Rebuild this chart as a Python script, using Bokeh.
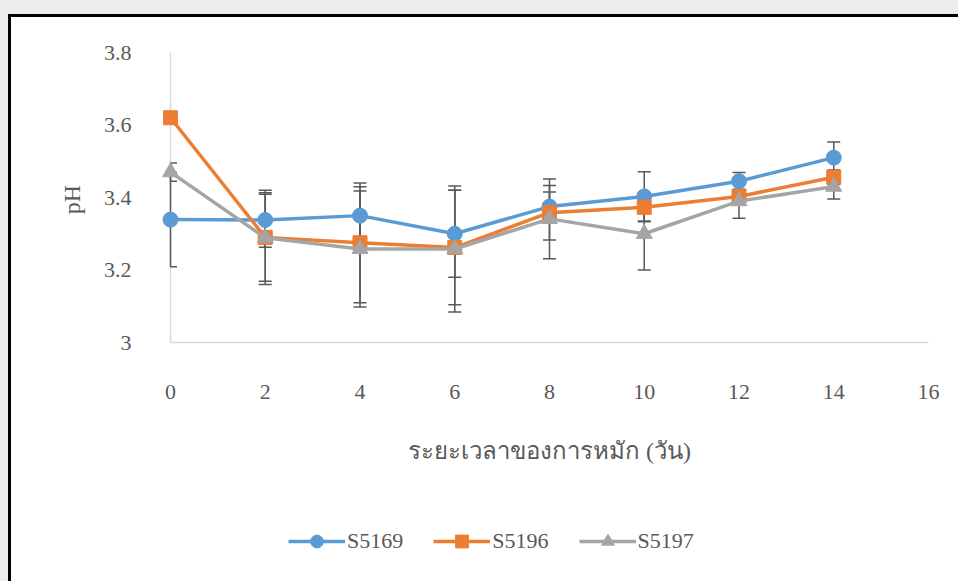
from bokeh.plotting import figure
from bokeh.layouts import column
from bokeh.models import (Range1d, FixedTicker, Legend, LegendItem,
                          CustomJSTickFormatter, InlineStyleSheet)
from bokeh.embed import file_html
from bokeh.resources import INLINE

# ---- data ----
days = [0, 2, 4, 6, 8, 10, 12, 14]
s5169 = [3.339, 3.338, 3.350, 3.300, 3.375, 3.403, 3.445, 3.510]
s5169_err = [0.13, 0.075, 0.08, 0.12, 0.04, 0.068, 0.024, 0.043]
s5196 = [3.620, 3.290, 3.275, 3.262, 3.358, 3.373, 3.403, 3.456]
s5196_err = [0.0, 0.13, 0.165, 0.158, 0.075, 0.04, 0.02, 0.02]
s5197 = [3.470, 3.289, 3.258, 3.258, 3.341, 3.300, 3.390, 3.430]
s5197_err = [0.025, 0.12, 0.16, 0.174, 0.11, 0.10, 0.047, 0.034]
series_names = ["S5169", "S5196", "S5197"]
x_ticks = [0, 2, 4, 6, 8, 10, 12, 14, 16]
y_ticks = [3.0, 3.2, 3.4, 3.6, 3.8]
x_min, x_max = 0, 16
y_min, y_max = 3.0, 3.8
x_title = "ระยะเวลาของการหมัก (วัน)"
y_title = "pH"

colors = ["#5B9BD5", "#ED7D31", "#A5A5A5"]
markers = ["circle", "square", "triangle"]
marker_sizes = [15, 14, 16]
FONT = "Liberation Serif"
TXT = "#595959"
AXIS_C = "#D9D9D9"

# layout in pixels
W, H = 958, 581
H1 = 490                      # main chart part
H2 = H - H1                   # legend strip
pad = 21                      # extra room round the plot area so markers are not cut
left_px, right_px, top_px, bottom_px = 170 - pad, 928 + pad, 52, 346
px_per_x = (928 - 170) / (x_max - x_min)
px_per_y = (342 - 52) / (y_max - y_min)
x_start = x_min - pad / px_per_x
x_end = x_max + pad / px_per_x
y_start = y_min - (bottom_px - 342) / px_per_y

p = figure(width=W, height=H1, output_backend="svg", toolbar_location=None,
           x_range=Range1d(x_start, x_end), y_range=Range1d(y_start, y_max),
           min_border_left=left_px, min_border_right=W - right_px,
           min_border_top=top_px, min_border_bottom=H1 - bottom_px,
           background_fill_color="white", border_fill_color="white")
p.outline_line_color = None
p.xgrid.visible = False
p.ygrid.visible = False

for ax in (p.xaxis[0], p.yaxis[0]):
    ax.axis_line_color = None
    ax.major_tick_line_color = None
    ax.minor_tick_line_color = None
    ax.major_label_text_font = FONT
    ax.major_label_text_font_size = "22px"
    ax.major_label_text_color = TXT
    ax.axis_label_text_font = FONT
    ax.axis_label_text_font_style = "normal"
    ax.axis_label_text_color = TXT

p.xaxis.ticker = FixedTicker(ticks=x_ticks)
p.yaxis.ticker = FixedTicker(ticks=y_ticks)
p.yaxis.formatter = CustomJSTickFormatter(code="return (Math.round(tick*10)/10).toString();")
p.xaxis.major_label_standoff = 32
p.yaxis.major_label_standoff = 12
p.xaxis.axis_label = x_title
p.yaxis.axis_label = y_title
p.xaxis.axis_label_text_font_size = "24px"
p.yaxis.axis_label_text_font_size = "24px"
p.xaxis.axis_label_standoff = 36
p.yaxis.axis_label_standoff = 16

# axis lines at x=0 and y=3.0
p.segment(x0=[x_min], y0=[y_min], x1=[x_min], y1=[y_max], line_color=AXIS_C, line_width=1.5)
p.segment(x0=[x_min], y0=[y_min], x1=[x_max], y1=[y_min], line_color=AXIS_C, line_width=1.5)

# ---- error bars ----
cap_half = 6.5 / px_per_x
all_vals = [s5169, s5196, s5197]
all_errs = [s5169_err, s5196_err, s5197_err]
for vals, errs in zip(all_vals, all_errs):
    xs = [d for d, e in zip(days, errs) if e > 0]
    lo = [v - e for v, e in zip(vals, errs) if e > 0]
    hi = [v + e for v, e in zip(vals, errs) if e > 0]
    p.segment(x0=xs, y0=lo, x1=xs, y1=hi, line_color=TXT, line_width=1.5)
    cx0 = [max(x - cap_half, x_min) for x in xs] * 2
    cx1 = [x + cap_half for x in xs] * 2
    p.segment(x0=cx0, y0=lo + hi, x1=cx1, y1=lo + hi, line_color=TXT, line_width=1.5)

# ---- series ----
for vals, c, m, s in zip(all_vals, colors, markers, marker_sizes):
    p.line(days, vals, line_color=c, line_width=3.5)
    p.scatter(days, vals, marker=m, size=s, fill_color=c, line_color=c)

# ---- legend strip (own small figure; its series copies lie outside its view) ----
q = figure(width=W, height=H2, output_backend="svg", toolbar_location=None,
           x_range=Range1d(100, 101), y_range=Range1d(100, 101),
           x_axis_type=None, y_axis_type=None,
           min_border=0, min_border_left=0, min_border_right=0,
           min_border_top=0, min_border_bottom=0,
           background_fill_color="white", border_fill_color="white")
q.outline_line_color = None
q.xgrid.visible = False
q.ygrid.visible = False
items = []
for name, vals, c, m, s in zip(series_names, all_vals, colors, markers, marker_sizes):
    lr = q.line(days, vals, line_color=c, line_width=3.5)
    sr = q.scatter(days, vals, marker=m, size=s - 1, fill_color=c, line_color=c)
    items.append(LegendItem(label=name, renderers=[lr, sr]))

legend = Legend(items=items, orientation="horizontal", location=(288 - left_px, 24),
                padding=0, margin=0, spacing=30, glyph_width=57, glyph_height=32,
                label_standoff=2, label_text_font=FONT, label_text_font_size="22px",
                label_text_color=TXT, border_line_color=None, background_fill_alpha=0)
q.add_layout(legend)

layout = column(p, q, spacing=0)

# ---- page frame around the chart (thick black edge, grey page outside) ----
layout.stylesheets = [InlineStyleSheet(css="""
:host::after {
  content: "";
  position: absolute;
  left: 8px; top: 14px; width: 2000px; height: 2000px;
  border-left: 3px solid #000; border-top: 3px solid #000;
  box-shadow: 0 0 0 40px #ECEDEA;
  pointer-events: none;
  z-index: 100;
}
""")]

open("out.html", "w").write(file_html(layout, INLINE))
